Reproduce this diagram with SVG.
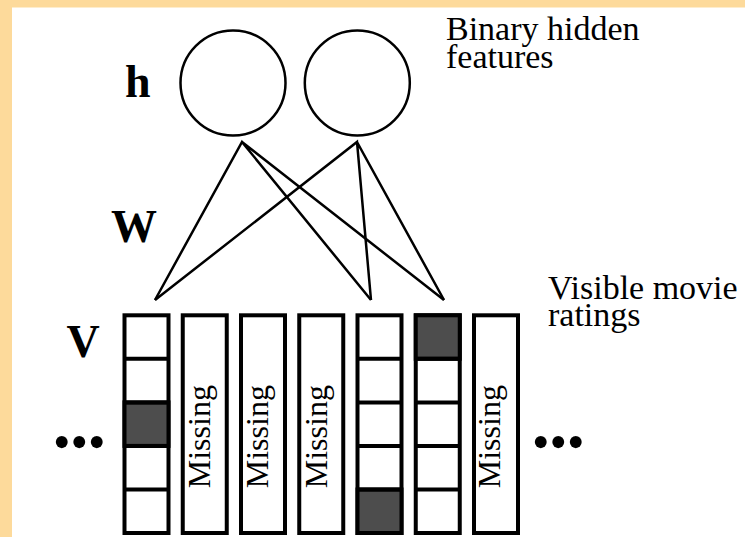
<svg xmlns="http://www.w3.org/2000/svg" width="745" height="537" viewBox="0 0 745 537">
<style>
.node{fill:#fff;stroke:#000;stroke-width:2.5}
.col{fill:#fff;stroke:#000;stroke-width:4}
.dark{fill:#4d4d4d;stroke:#000;stroke-width:4}
.edge{stroke:#000;stroke-width:2.5;fill:none;stroke-linejoin:miter}
.lbl{font-family:"Liberation Serif","Times New Roman",serif;font-weight:bold;font-size:46px;fill:#000}
.txt{font-family:"Liberation Serif","Times New Roman",serif;font-size:34px;fill:#000}
.miss{font-family:"Liberation Serif","Times New Roman",serif;font-size:32px;fill:#000;text-anchor:middle}
.dots{font-family:"Liberation Serif","Times New Roman",serif;font-size:50px;fill:#000}
</style>
<rect x="0" y="0" width="745" height="537" fill="#FDDA9B"/>
<rect x="12" y="7.5" width="733" height="529.5" fill="#fff"/>

<g id="connectors">
<path class="edge" d="M155,300 L242,142 L371,300 M242,142 L444,300"/>
<path class="edge" d="M155,300 L357,142 L371,300 M357,142 L444,300"/>
</g>

<g id="hidden1"><circle class="node" cx="233" cy="83" r="52.5"/></g>
<g id="hidden2"><circle class="node" cx="357.3" cy="83" r="52.5"/></g>

<g id="label-h"><text class="lbl" x="125" y="97">h</text></g>
<g id="label-W"><text class="lbl" x="111" y="241.5">W</text></g>
<g id="label-V"><text class="lbl" x="66.5" y="356.5">V</text></g>

<g id="label-hidden"><text class="txt" x="446" y="40">Binary hidden</text><text class="txt" x="446" y="68">features</text></g>
<g id="label-visible"><text class="txt" x="548" y="299">Visible movie</text><text class="txt" x="548" y="326">ratings</text></g>

<g id="col1">
<rect class="col" x="124.5" y="315.3" width="44" height="217.7"/>
<rect class="dark" x="124.5" y="402.4" width="44" height="43.5"/>
<path class="edge" style="stroke-width:4" d="M124.5,358.8 H168.5 M124.5,402.4 H168.5 M124.5,445.9 H168.5 M124.5,489.5 H168.5"/>
</g>
<g id="col2">
<rect class="col" x="182.75" y="315.3" width="44" height="217.7"/>
<text class="miss" transform="translate(210,436.7) rotate(-90)">Missing</text>
</g>
<g id="col3">
<rect class="col" x="241" y="315.3" width="44" height="217.7"/>
<text class="miss" transform="translate(268.25,436.7) rotate(-90)">Missing</text>
</g>
<g id="col4">
<rect class="col" x="299.25" y="315.3" width="44" height="217.7"/>
<text class="miss" transform="translate(326.5,436.7) rotate(-90)">Missing</text>
</g>
<g id="col5">
<rect class="col" x="357.5" y="315.3" width="44" height="217.7"/>
<rect class="dark" x="357.5" y="489.5" width="44" height="43.5"/>
<path class="edge" style="stroke-width:4" d="M357.5,358.8 H401.5 M357.5,402.4 H401.5 M357.5,445.9 H401.5 M357.5,489.5 H401.5"/>
</g>
<g id="col6">
<rect class="col" x="415.75" y="315.3" width="44" height="217.7"/>
<rect class="dark" x="415.75" y="315.3" width="44" height="43.5"/>
<path class="edge" style="stroke-width:4" d="M415.75,358.8 H459.75 M415.75,402.4 H459.75 M415.75,445.9 H459.75 M415.75,489.5 H459.75"/>
</g>
<g id="col7">
<rect class="col" x="474" y="315.3" width="44" height="217.7"/>
<text class="miss" transform="translate(500,436.7) rotate(-90)">Missing</text>
</g>

<g id="dots-left"><text class="dots" x="53" y="459">•••</text></g>
<g id="dots-right"><text class="dots" x="532" y="459">•••</text></g>
</svg>
